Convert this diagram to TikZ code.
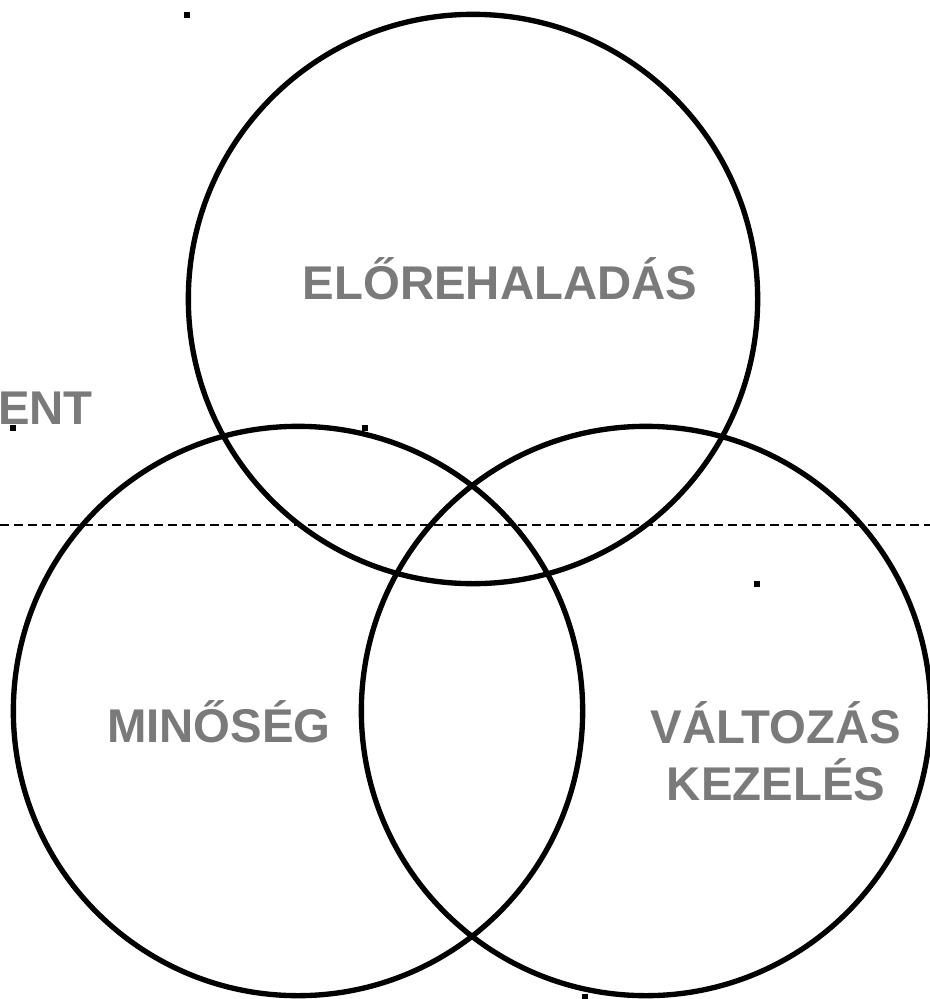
\documentclass[tikz,border=0pt]{standalone}
\usepackage{fontspec}
\setmainfont{Liberation Sans}
\usetikzlibrary{positioning}
\definecolor{labelgray}{RGB}{122,122,122}

\tikzset{
  ring/.style={circle,draw=black,line width=4pt,inner sep=0pt,minimum size=427pt},
  tag/.style={font=\bfseries\fontsize{35.5}{43}\selectfont,text=labelgray,align=center,inner sep=0pt},
  grip/.style={fill=black,minimum size=5pt,inner sep=0pt}
}

\begin{document}
\begin{tikzpicture}[x=0.75pt,y=-0.75pt]
    \useasboundingbox (0,0) rectangle (930,999);
    % dashed guide
    \coordinate (guideL) at (0,525);
    \coordinate (guideR) at (930,525);
    \draw[dashed,line width=1.1pt,dash pattern=on 7pt off 3.5pt] (guideL) -- (guideR);
    % the three sets
    \node[ring] (top)   at (473,299) {};
    \node[ring] (left)  at (298,711) {};
    \node[ring] (right) at (646,711) {};
    % labels
    \node[tag] (progress) at (500,279) {ELŐREHALADÁS};
    \node[tag] (quality)  at (219,722) {MINŐSÉG};
    \node[tag] (change)   at (776,751) {VÁLTOZÁS\\KEZELÉS};
    \node[tag,anchor=east] (cut) at (93,408) {ENT};
    % selection handles
    \node[grip] (g1) at (187,15) {};
    \node[grip] (g2) at (13,428) {};
    \node[grip] (g3) at (365,428) {};
    \node[grip] (g4) at (757,584) {};
    \node[grip] (g5) at (585,997) {};
\end{tikzpicture}
\end{document}
